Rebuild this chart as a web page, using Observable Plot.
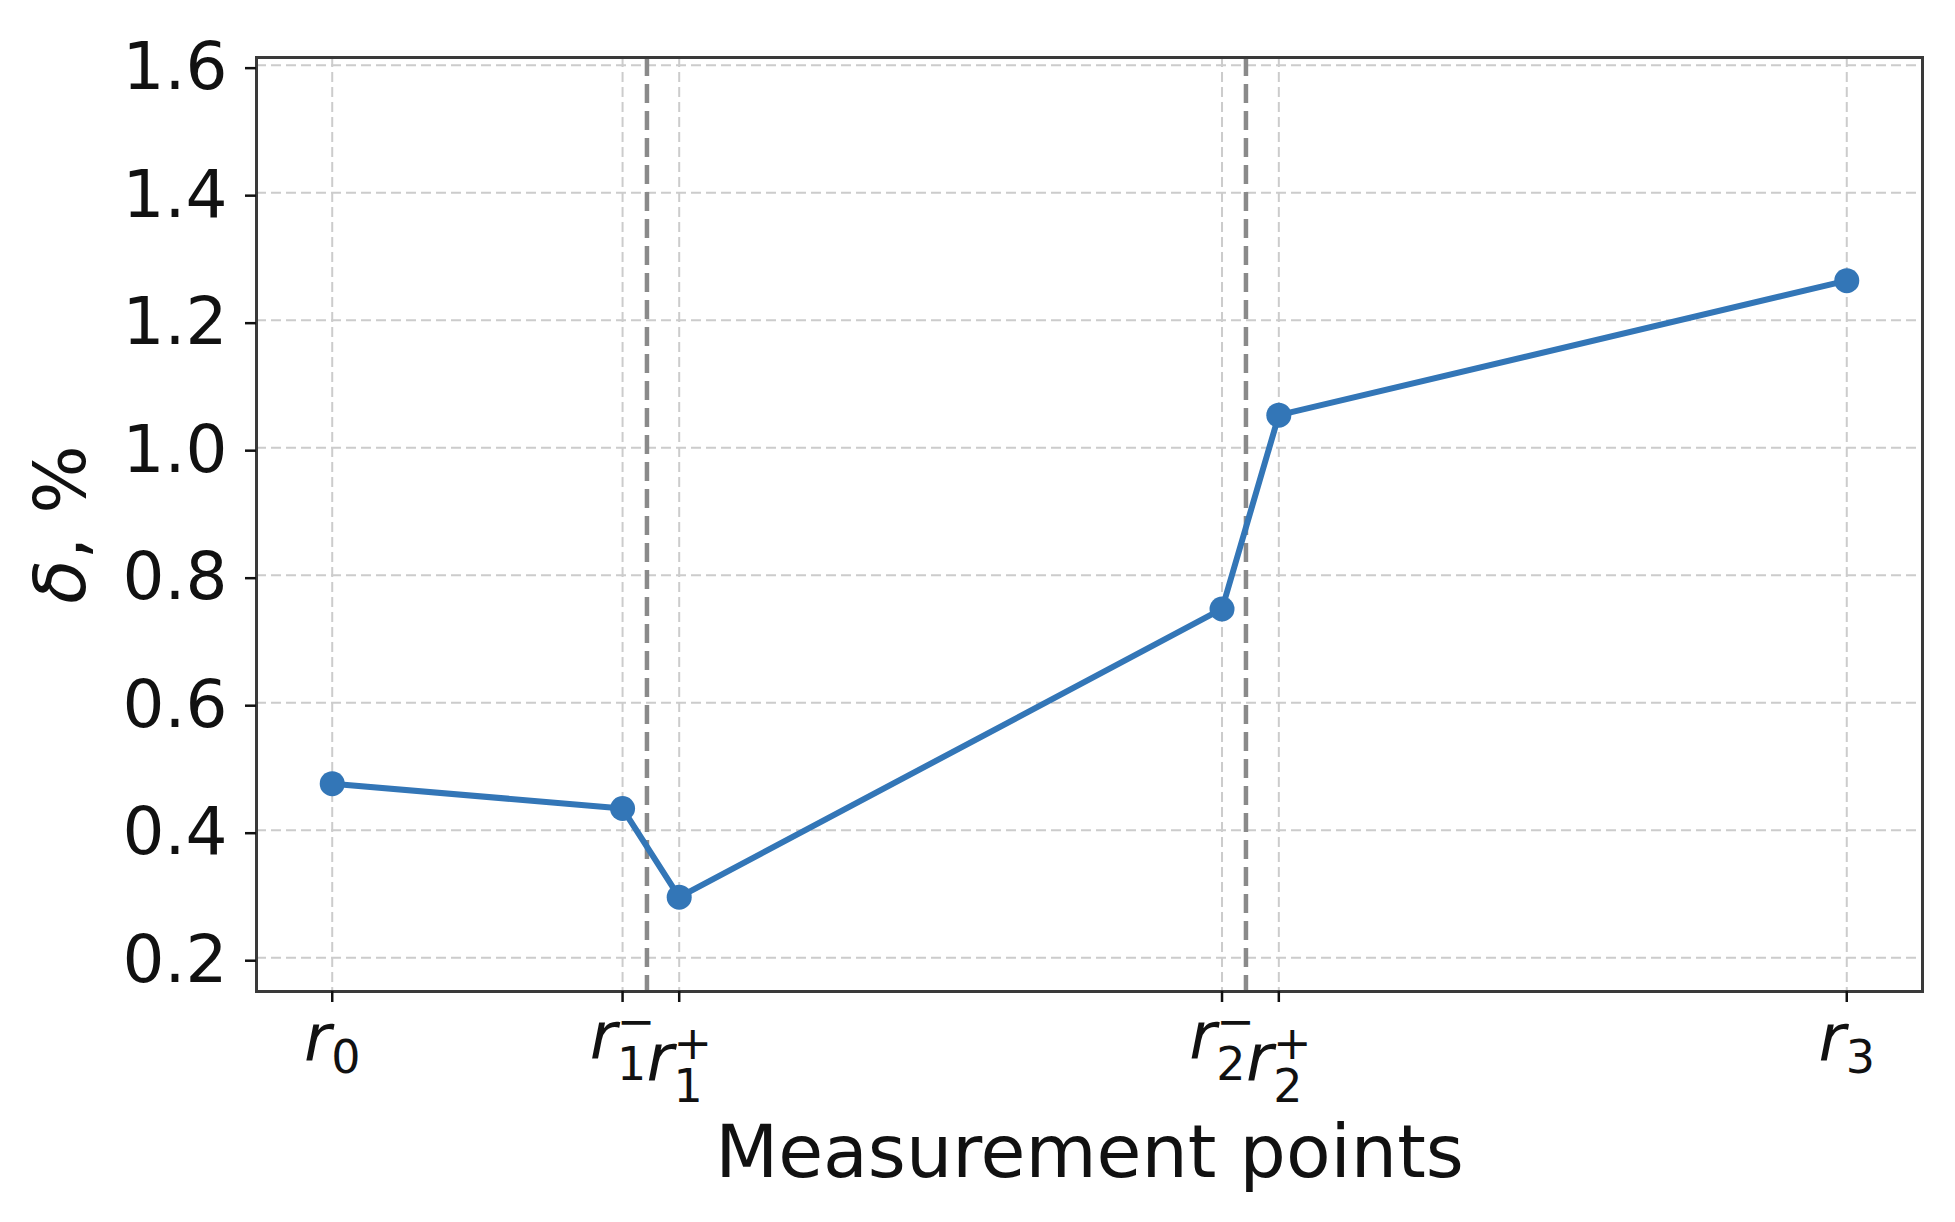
<!DOCTYPE html>
<html>
<head>
<meta charset="utf-8">
<script src="https://cdn.jsdelivr.net/npm/d3@7"></script>
<script src="https://cdn.jsdelivr.net/npm/@observablehq/plot@0.6"></script>
<style>
  html, body { margin: 0; padding: 0; background: #fff; }
</style>
</head>
<body>
<div id="chart"></div>
<script>
// ---- data ----
const pointKeys = ["r0", "r1−", "r1+", "r2−", "r2+", "r3"];
const pointBase = ["r", "r", "r", "r", "r", "r"];
const pointSub  = ["0", "1", "1", "2", "2", "3"];
const pointSup  = ["", "−", "+", "−", "+", ""];
const xPositions = [0, 0.1917, 0.2291, 0.5875, 0.625, 1.0];
const deltaValues = [0.473, 0.434, 0.295, 0.747, 1.051, 1.262];
const boundaries = [0.2078, 0.6033];
const yTicks = [0.2, 0.4, 0.6, 0.8, 1.0, 1.2, 1.4, 1.6];
const xLabel = "Measurement points";
const yLabel = "δ, %";

const table = pointKeys.map((k, i) => ({key: k, x: xPositions[i], y: deltaValues[i]}));

const blue = "#3376b7";

const chart = Plot.plot({
  width: 1955,
  height: 1222,
  marginLeft: 256,
  marginRight: 33,
  marginTop: 57,
  marginBottom: 231,
  style: {fontFamily: "DejaVu Sans", fontSize: "66px", color: "#111", background: "#fff"},
  x: {domain: [-0.05, 1.05]},
  y: {domain: [0.147, 1.612]},
  marks: [
    Plot.gridX(xPositions, {stroke: "#cccccc", strokeOpacity: 1, strokeWidth: 2, strokeDasharray: "10,5"}),
    Plot.gridY(yTicks, {stroke: "#cccccc", strokeOpacity: 1, strokeWidth: 2, strokeDasharray: "10,5"}),
    Plot.ruleX(boundaries, {stroke: "#8a8a8a", strokeWidth: 4.5, strokeDasharray: "19,8"}),
    Plot.line(table, {x: "x", y: "y", stroke: blue, strokeWidth: 6}),
    Plot.dot(table, {x: "x", y: "y", r: 12.5, fill: blue}),
    Plot.frame({stroke: "#3a3a3a", strokeWidth: 3}),
    Plot.axisY(yTicks, {tickFormat: d => d.toFixed(1), tickSize: 11, tickPadding: 18, strokeWidth: 2.5, fontSize: 66, label: null, dy: 3}),
    Plot.axisX(xPositions, {tickFormat: () => "", tickSize: 11, strokeWidth: 2.5, label: null}),
    Plot.text(table, {x: "x", text: "key", frameAnchor: "bottom", lineAnchor: "bottom", dy: 69, fontSize: 66}),
    Plot.text([xLabel], {frameAnchor: "bottom", lineAnchor: "bottom", dy: 185, fontSize: 73}),
    Plot.text([yLabel], {frameAnchor: "left", textAnchor: "middle", lineAnchor: "bottom", rotate: -90, dx: -172, fontSize: 72})
  ]
});

document.getElementById("chart").appendChild(chart);

// Rebuild math-style labels (italic r with subscript / superscript)
d3.select(chart).selectAll("text").each(function() {
  const t = d3.select(this);
  const content = this.textContent;
  const i = pointKeys.indexOf(content);
  if (i >= 0) {
    t.text(null);
    const sup = pointSup[i];
    const shift = sup === "+" ? 20 : sup === "−" ? -2 : 0;
    t.append("tspan").attr("font-style", "italic").attr("dy", shift).text(pointBase[i]);
    t.append("tspan").attr("font-size", "46px").attr("dy", sup ? 21 : 12).text(pointSub[i]);
    if (sup) {
      t.append("tspan").attr("font-size", "46px").attr("dx", -29.3).attr("dy", -43).text(sup);
    }
  } else if (content === yLabel) {
    t.text(null);
    t.append("tspan").attr("font-style", "italic").text("δ");
    t.append("tspan").text(", %");
  }
});
</script>
</body>
</html>
